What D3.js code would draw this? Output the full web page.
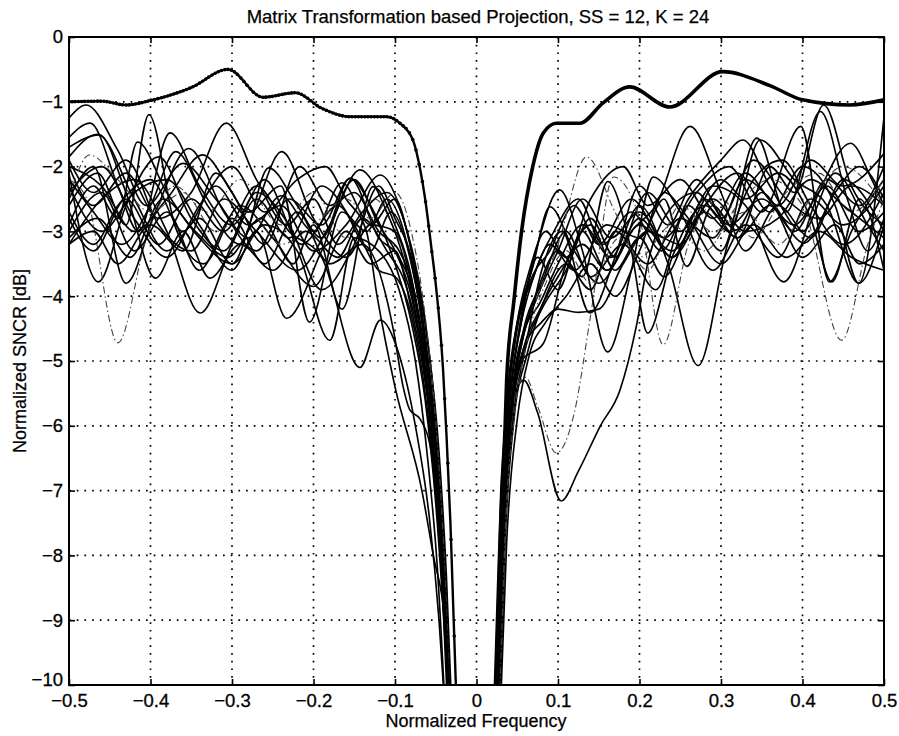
<!DOCTYPE html>
<html><head><meta charset="utf-8">
<script src="https://cdn.jsdelivr.net/npm/d3@7"></script>
<style>
body{margin:0;background:#fff}
text{font-family:"Liberation Sans",Arial,Helvetica,sans-serif;fill:#000}
</style>
</head><body>
<svg id="chart" width="899" height="736"></svg>
<script>
// ---------------- data ----------------
const titleText = "Matrix Transformation based Projection, SS = 12, K = 24";
const xLabelText = "Normalized Frequency";
const yLabelText = "Normalized SNCR [dB]";
const xTickValues = [-0.5,-0.4,-0.3,-0.2,-0.1,0,0.1,0.2,0.3,0.4,0.5];
const yTickValues = [0,-1,-2,-3,-4,-5,-6,-7,-8,-9,-10];

// heavy reference curves
const boldLeft = [[-0.5,-1.0],[-0.46,-0.99],[-0.43,-1.05],[-0.4,-0.98],[-0.35,-0.78],[-0.305,-0.5],[-0.262,-0.93],[-0.222,-0.86],[-0.19,-1.1],[-0.155,-1.23],[-0.11,-1.23],[-0.094,-1.33],[-0.078,-1.59],[-0.069,-2.05],[-0.063,-2.5],[-0.055,-3.29],[-0.051,-3.7],[-0.041,-5.14],[-0.037,-6.1],[-0.032,-7.5],[-0.028,-9.0],[-0.024,-10.5]];
const boldRight = [[0.022,-10.5],[0.027,-8.5],[0.031,-7.0],[0.035,-6.06],[0.037,-5.29],[0.046,-4.06],[0.055,-3.03],[0.069,-2.0],[0.082,-1.48],[0.098,-1.33],[0.127,-1.33],[0.155,-1.02],[0.188,-0.77],[0.237,-1.08],[0.302,-0.535],[0.36,-0.75],[0.4,-0.97],[0.458,-1.05],[0.5,-0.97]];

// thin curves, negative frequencies
const L01 = [[-0.5,-1.25],[-0.479,-1.05],[-0.44,-1.75],[-0.405,-2.6],[-0.36,-1.95],[-0.32,-2.5],[-0.28,-3.1],[-0.24,-2.45],[-0.2,-3.0],[-0.165,-2.25],[-0.13,-2.9],[-0.1,-2.5],[-0.08,-3.3],[-0.06,-4.7],[-0.046,-6.4],[-0.037,-8.3],[-0.03,-10.5]];
const L02 = [[-0.5,-1.55],[-0.474,-1.33],[-0.44,-2.3],[-0.415,-3.0],[-0.376,-1.48],[-0.34,-2.3],[-0.3,-2.9],[-0.26,-2.2],[-0.215,-3.2],[-0.17,-2.6],[-0.13,-3.3],[-0.105,-2.7],[-0.08,-3.5],[-0.062,-4.8],[-0.048,-6.5],[-0.038,-8.4],[-0.031,-10.5]];
const L03 = [[-0.5,-2.6],[-0.465,-2.1],[-0.43,-2.9],[-0.402,-1.2],[-0.369,-2.95],[-0.335,-3.5],[-0.29,-2.6],[-0.25,-3.1],[-0.2,-3.85],[-0.16,-3.0],[-0.13,-3.5],[-0.1,-3.3],[-0.08,-4.2],[-0.062,-5.4],[-0.048,-7.0],[-0.039,-8.8],[-0.032,-10.5]];
const L04 = [[-0.5,-2.0],[-0.47,-2.6],[-0.43,-2.1],[-0.39,-2.8],[-0.35,-2.4],[-0.307,-1.33],[-0.27,-2.2],[-0.233,-2.9],[-0.2,-2.5],[-0.17,-3.2],[-0.14,-2.7],[-0.11,-2.4],[-0.085,-3.0],[-0.065,-4.2],[-0.05,-5.9],[-0.04,-7.9],[-0.032,-10.5]];
const L05 = [[-0.5,-1.85],[-0.465,-1.5],[-0.42,-2.5],[-0.38,-3.3],[-0.34,-2.8],[-0.3,-3.5],[-0.27,-2.6],[-0.239,-1.77],[-0.2,-2.8],[-0.16,-3.4],[-0.13,-2.9],[-0.1,-3.0],[-0.08,-3.8],[-0.063,-5.0],[-0.049,-6.7],[-0.039,-8.6],[-0.032,-10.5]];
const L06 = [[-0.5,-3.2],[-0.46,-2.5],[-0.42,-2.2],[-0.38,-3.0],[-0.339,-4.26],[-0.3,-3.2],[-0.27,-2.5],[-0.23,-3.1],[-0.19,-2.3],[-0.15,-2.9],[-0.12,-3.6],[-0.1,-3.7],[-0.08,-4.3],[-0.064,-5.4],[-0.05,-7.0],[-0.04,-8.9],[-0.033,-10.5]];
const L07 = [[-0.5,-2.3],[-0.46,-3.0],[-0.42,-2.4],[-0.38,-2.2],[-0.34,-2.9],[-0.3,-3.6],[-0.27,-3.0],[-0.233,-4.34],[-0.19,-3.3],[-0.15,-2.2],[-0.12,-2.9],[-0.1,-3.3],[-0.08,-4.0],[-0.063,-5.2],[-0.05,-6.9],[-0.04,-8.7],[-0.033,-10.5]];
const L08 = [[-0.5,-2.1],[-0.464,-3.78],[-0.43,-2.6],[-0.39,-1.85],[-0.35,-2.8],[-0.31,-3.3],[-0.27,-2.4],[-0.23,-2.9],[-0.19,-3.9],[-0.15,-3.2],[-0.12,-2.3],[-0.1,-2.8],[-0.08,-3.4],[-0.062,-4.7],[-0.048,-6.4],[-0.038,-8.3],[-0.031,-10.5]];
const L09 = [[-0.5,-2.5],[-0.47,-2.0],[-0.43,-3.8],[-0.394,-2.7],[-0.353,-1.72],[-0.31,-2.7],[-0.27,-3.3],[-0.23,-2.5],[-0.19,-2.9],[-0.155,-2.18],[-0.12,-3.1],[-0.095,-3.4],[-0.075,-4.1],[-0.06,-5.3],[-0.047,-7.0],[-0.038,-8.9],[-0.031,-10.5]];
const L10 = [[-0.5,-2.2],[-0.478,-2.5],[-0.44,-4.72],[-0.405,-3.1],[-0.37,-2.3],[-0.33,-2.7],[-0.29,-2.2],[-0.24,-2.9],[-0.2,-2.4],[-0.16,-3.1],[-0.125,-2.5],[-0.1,-3.0],[-0.08,-3.7],[-0.063,-5.0],[-0.049,-6.7],[-0.039,-8.5],[-0.032,-10.5]];
const L11 = [[-0.5,-2.8],[-0.47,-3.3],[-0.43,-2.5],[-0.39,-3.2],[-0.35,-2.5],[-0.31,-3.0],[-0.27,-2.3],[-0.23,-3.0],[-0.19,-3.4],[-0.143,-5.1],[-0.118,-4.37],[-0.095,-4.9],[-0.075,-6.0],[-0.058,-7.4],[-0.046,-9.0],[-0.038,-10.5]];
const L12 = [[-0.5,-3.0],[-0.46,-2.4],[-0.42,-3.3],[-0.38,-2.7],[-0.34,-3.6],[-0.3,-2.8],[-0.26,-3.5],[-0.22,-2.7],[-0.18,-3.5],[-0.14,-3.2],[-0.102,-4.52],[-0.09,-5.4],[-0.082,-5.75],[-0.069,-5.9],[-0.057,-6.3],[-0.045,-7.6],[-0.037,-9.0],[-0.031,-10.5]];
const L13 = [[-0.5,-2.4],[-0.46,-2.0],[-0.42,-2.8],[-0.38,-3.4],[-0.34,-2.6],[-0.3,-2.0],[-0.26,-2.7],[-0.22,-2.2],[-0.185,-2.0],[-0.16,-2.5],[-0.135,-3.0],[-0.122,-4.0],[-0.1,-5.4],[-0.067,-7.0],[-0.053,-8.0],[-0.039,-9.0],[-0.033,-10.5]];
const L14 = [[-0.5,-1.9],[-0.47,-2.4],[-0.43,-1.9],[-0.39,-2.9],[-0.35,-3.3],[-0.31,-2.5],[-0.27,-3.0],[-0.22,-3.6],[-0.18,-2.9],[-0.143,-2.05],[-0.11,-2.7],[-0.09,-3.4],[-0.07,-4.6],[-0.055,-6.1],[-0.044,-7.9],[-0.035,-10.5]];
const L15 = [[-0.5,-2.7],[-0.47,-3.2],[-0.44,-2.6],[-0.4,-2.2],[-0.36,-3.0],[-0.32,-2.3],[-0.28,-2.9],[-0.24,-2.6],[-0.2,-3.3],[-0.16,-2.9],[-0.118,-2.13],[-0.095,-2.6],[-0.078,-3.4],[-0.062,-4.8],[-0.049,-6.6],[-0.039,-8.5],[-0.031,-10.5]];
const L16 = [[-0.5,-3.1],[-0.465,-2.8],[-0.425,-3.4],[-0.385,-2.5],[-0.345,-3.0],[-0.305,-3.4],[-0.265,-2.8],[-0.225,-3.5],[-0.2,-2.9],[-0.165,-4.2],[-0.127,-2.31],[-0.1,-2.9],[-0.08,-3.7],[-0.064,-5.0],[-0.05,-6.8],[-0.04,-8.7],[-0.032,-10.5]];
const L17 = [[-0.5,-2.0],[-0.46,-2.3],[-0.42,-3.0],[-0.38,-2.5],[-0.336,-1.82],[-0.3,-2.4],[-0.26,-3.2],[-0.217,-2.0],[-0.18,-2.6],[-0.15,-2.4],[-0.12,-3.0],[-0.095,-3.3],[-0.075,-4.0],[-0.06,-5.2],[-0.047,-6.9],[-0.038,-8.7],[-0.031,-10.5]];
const L18 = [[-0.5,-2.5],[-0.475,-1.82],[-0.44,-2.2],[-0.4,-2.7],[-0.36,-2.4],[-0.32,-3.0],[-0.28,-2.7],[-0.24,-3.2],[-0.2,-2.9],[-0.16,-2.5],[-0.13,-2.8],[-0.1,-2.4],[-0.08,-3.0],[-0.063,-4.3],[-0.049,-6.1],[-0.039,-8.2],[-0.032,-10.5]];
const L19 = [[-0.5,-2.9],[-0.47,-2.3],[-0.44,-2.8],[-0.416,-1.62],[-0.38,-2.4],[-0.34,-3.1],[-0.3,-3.5],[-0.26,-2.9],[-0.22,-3.3],[-0.18,-4.68],[-0.15,-3.1],[-0.12,-3.3],[-0.095,-3.9],[-0.075,-5.0],[-0.06,-6.5],[-0.048,-8.2],[-0.038,-10.5]];
const L20 = [[-0.5,-2.2],[-0.47,-2.7],[-0.435,-3.2],[-0.4,-2.6],[-0.369,-1.77],[-0.33,-2.6],[-0.29,-3.2],[-0.255,-2.02],[-0.22,-2.6],[-0.19,-3.1],[-0.155,-2.18],[-0.13,-2.6],[-0.1,-3.5],[-0.08,-4.4],[-0.063,-5.6],[-0.05,-7.2],[-0.04,-9.0],[-0.033,-10.5]];
const L21 = [[-0.5,-1.7],[-0.463,-1.51],[-0.43,-2.4],[-0.394,-3.72],[-0.36,-3.0],[-0.327,-3.72],[-0.29,-3.2],[-0.25,-3.6],[-0.21,-3.0],[-0.17,-3.4],[-0.14,-2.8],[-0.11,-3.3],[-0.085,-3.9],[-0.066,-5.0],[-0.051,-6.7],[-0.041,-8.6],[-0.033,-10.5]];
const L22 = [[-0.5,-3.2],[-0.47,-3.0],[-0.44,-3.5],[-0.4,-2.9],[-0.36,-3.3],[-0.32,-2.1],[-0.28,-2.7],[-0.24,-2.3],[-0.205,-4.4],[-0.165,-2.7],[-0.135,-3.0],[-0.11,-2.5],[-0.085,-3.2],[-0.066,-4.5],[-0.051,-6.3],[-0.04,-8.3],[-0.032,-10.5]];

// thin curves, positive frequencies
const R01 = [[0.024,-10.5],[0.031,-7.5],[0.04,-5.4],[0.052,-4.3],[0.068,-3.6],[0.09,-2.62],[0.12,-3.3],[0.15,-3.8],[0.19,-3.0],[0.22,-2.6],[0.262,-1.38],[0.3,-2.4],[0.33,-3.3],[0.37,-2.6],[0.41,-3.1],[0.45,-2.2],[0.5,-3.0]];
const R02 = [[0.025,-10.5],[0.032,-7.5],[0.041,-5.6],[0.055,-4.4],[0.075,-3.4],[0.1,-3.9],[0.13,-3.0],[0.16,-3.6],[0.2,-2.8],[0.24,-3.4],[0.28,-2.5],[0.32,-3.1],[0.36,-2.0],[0.39,-2.4],[0.426,-1.05],[0.46,-2.3],[0.5,-2.9]];
const R03 = [[0.026,-10.5],[0.033,-7.6],[0.043,-5.6],[0.058,-4.5],[0.08,-3.8],[0.11,-3.0],[0.14,-3.7],[0.18,-3.2],[0.22,-3.9],[0.26,-2.6],[0.3,-3.3],[0.344,-1.56],[0.38,-2.7],[0.422,-1.15],[0.455,-2.5],[0.48,-3.3],[0.5,-2.8]];
const R04 = [[0.023,-10.5],[0.03,-7.5],[0.039,-5.6],[0.05,-4.5],[0.065,-3.8],[0.09,-3.3],[0.12,-2.6],[0.15,-3.2],[0.19,-2.5],[0.23,-3.1],[0.27,-2.4],[0.31,-2.0],[0.35,-2.7],[0.398,-1.38],[0.433,-3.78],[0.46,-3.0],[0.5,-2.2]];
const R05 = [[0.027,-10.5],[0.034,-7.7],[0.044,-5.8],[0.06,-4.8],[0.08,-4.2],[0.11,-3.6],[0.14,-2.8],[0.17,-3.4],[0.21,-2.4],[0.25,-3.0],[0.29,-2.3],[0.33,-2.6],[0.377,-3.78],[0.42,-2.4],[0.459,-1.64],[0.485,-2.2],[0.5,-2.6]];
const R06 = [[0.025,-10.5],[0.032,-7.6],[0.042,-5.8],[0.056,-4.7],[0.075,-4.0],[0.1,-3.3],[0.13,-2.5],[0.165,-3.1],[0.2,-2.7],[0.24,-3.4],[0.28,-2.6],[0.32,-2.1],[0.36,-2.7],[0.4,-2.0],[0.44,-2.6],[0.469,-3.8],[0.5,-1.23]];
const R07 = [[0.028,-10.5],[0.035,-7.8],[0.046,-5.9],[0.062,-4.9],[0.085,-4.0],[0.11,-3.5],[0.14,-3.9],[0.17,-3.0],[0.21,-3.5],[0.25,-2.8],[0.29,-3.1],[0.33,-2.2],[0.36,-2.5],[0.402,-3.18],[0.44,-2.4],[0.47,-2.0],[0.5,-2.5]];
const R08 = [[0.027,-10.5],[0.034,-7.6],[0.044,-5.7],[0.058,-4.6],[0.078,-3.9],[0.1,-3.2],[0.135,-1.85],[0.17,-2.7],[0.2,-3.4],[0.24,-2.9],[0.28,-3.3],[0.32,-2.6],[0.36,-2.2],[0.4,-2.6],[0.448,-4.68],[0.48,-3.2],[0.5,-2.5]];
const R09 = [[0.022,-10.5],[0.029,-7.4],[0.038,-5.5],[0.05,-4.4],[0.067,-3.8],[0.09,-3.2],[0.12,-3.6],[0.16,-2.9],[0.2,-3.1],[0.23,-2.5],[0.258,-3.54],[0.29,-2.6],[0.318,-2.98],[0.35,-2.4],[0.39,-3.0],[0.43,-2.2],[0.47,-2.6],[0.5,-2.0]];
const R10 = [[0.026,-10.5],[0.033,-7.5],[0.043,-5.7],[0.057,-4.6],[0.078,-4.1],[0.1,-3.5],[0.13,-2.9],[0.165,-3.4],[0.2,-2.6],[0.235,-3.5],[0.272,-5.07],[0.308,-3.2],[0.34,-2.2],[0.375,-1.9],[0.41,-2.6],[0.45,-3.2],[0.5,-2.4]];
const R11 = [[0.026,-10.5],[0.034,-7.5],[0.045,-5.6],[0.058,-5.3],[0.075,-5.8],[0.104,-7.16],[0.125,-6.7],[0.152,-6.0],[0.176,-5.45],[0.196,-4.47],[0.21,-3.5],[0.235,-2.7],[0.27,-2.4],[0.3,-2.8],[0.34,-1.9],[0.38,-2.5],[0.42,-2.8],[0.46,-2.3],[0.5,-2.6]];
const R12 = [[0.028,-10.5],[0.036,-7.5],[0.048,-5.5],[0.06,-5.25],[0.075,-5.7],[0.098,-6.42],[0.12,-5.8],[0.14,-4.3],[0.168,-2.16],[0.2,-2.8],[0.229,-4.75],[0.26,-3.2],[0.3,-2.5],[0.34,-3.1],[0.38,-2.4],[0.42,-2.1],[0.46,-2.7],[0.5,-2.2]];
const R13 = [[0.024,-10.5],[0.031,-7.5],[0.041,-5.6],[0.055,-4.3],[0.075,-3.2],[0.102,-2.36],[0.13,-3.3],[0.161,-4.86],[0.19,-3.6],[0.217,-2.16],[0.25,-2.7],[0.29,-3.6],[0.33,-2.9],[0.37,-3.4],[0.41,-2.5],[0.45,-2.9],[0.5,-2.3]];
const R14 = [[0.025,-10.5],[0.032,-7.6],[0.042,-5.8],[0.056,-4.7],[0.075,-3.9],[0.1,-3.3],[0.13,-3.7],[0.161,-2.23],[0.19,-3.3],[0.21,-4.57],[0.24,-3.4],[0.28,-2.6],[0.32,-3.1],[0.36,-2.6],[0.4,-3.4],[0.44,-2.9],[0.47,-3.5],[0.5,-3.2]];
const R15 = [[0.027,-10.5],[0.034,-7.7],[0.045,-5.9],[0.06,-4.8],[0.08,-3.6],[0.105,-3.0],[0.139,-4.26],[0.17,-3.4],[0.2,-2.3],[0.235,-2.9],[0.27,-2.2],[0.31,-2.9],[0.35,-2.5],[0.39,-2.9],[0.43,-2.3],[0.469,-3.0],[0.5,-2.7]];
const R16 = [[0.026,-10.5],[0.033,-7.6],[0.043,-5.8],[0.058,-4.8],[0.08,-4.4],[0.1,-4.2],[0.125,-4.25],[0.15,-4.2],[0.18,-3.5],[0.21,-3.0],[0.25,-3.2],[0.29,-2.5],[0.33,-3.0],[0.37,-2.8],[0.41,-2.2],[0.45,-2.6],[0.5,-3.1]];
const R17 = [[0.023,-10.5],[0.03,-7.6],[0.04,-6.0],[0.055,-5.0],[0.082,-4.73],[0.11,-3.5],[0.14,-2.9],[0.17,-3.6],[0.2,-3.1],[0.23,-3.7],[0.26,-3.0],[0.3,-2.2],[0.33,-2.5],[0.37,-2.1],[0.41,-2.8],[0.436,-3.78],[0.47,-2.5],[0.5,-3.6]];
const R18 = [[0.028,-10.5],[0.035,-7.7],[0.046,-5.9],[0.062,-4.7],[0.085,-3.8],[0.11,-3.3],[0.14,-3.8],[0.175,-3.1],[0.21,-3.6],[0.25,-2.6],[0.29,-3.0],[0.33,-2.7],[0.37,-3.2],[0.41,-2.5],[0.45,-2.0],[0.5,-2.6]];
const R19 = [[0.024,-10.5],[0.031,-7.5],[0.04,-5.7],[0.052,-4.6],[0.07,-3.7],[0.095,-3.0],[0.125,-2.5],[0.155,-3.2],[0.19,-2.7],[0.227,-3.3],[0.26,-2.5],[0.3,-1.9],[0.327,-1.59],[0.36,-2.3],[0.4,-3.0],[0.44,-2.1],[0.48,-2.9],[0.5,-3.3]];
const R20 = [[0.025,-10.5],[0.032,-7.6],[0.042,-5.9],[0.056,-4.9],[0.078,-4.2],[0.1,-3.7],[0.13,-3.2],[0.16,-3.6],[0.2,-2.9],[0.24,-3.3],[0.28,-2.7],[0.31,-3.0],[0.348,-1.59],[0.39,-2.2],[0.43,-2.6],[0.469,-3.8],[0.5,-2.9]];
const R21 = [[0.029,-10.5],[0.037,-7.8],[0.05,-5.9],[0.065,-4.9],[0.085,-4.4],[0.11,-4.0],[0.14,-3.5],[0.17,-4.0],[0.2,-3.3],[0.23,-2.4],[0.26,-2.8],[0.3,-3.5],[0.34,-2.9],[0.38,-3.4],[0.42,-3.0],[0.46,-3.4],[0.5,-3.6]];
const R22 = [[0.023,-10.5],[0.03,-7.4],[0.039,-5.5],[0.05,-4.4],[0.065,-3.6],[0.085,-3.0],[0.11,-3.4],[0.14,-2.5],[0.18,-2.0],[0.21,-2.6],[0.25,-2.2],[0.29,-2.8],[0.33,-2.1],[0.37,-2.6],[0.41,-1.9],[0.45,-2.3],[0.5,-1.8]];

const leftCurves = [L01,L02,L03,L04,L05,L06,L07,L08,L09,L10,L11,L12,L13,L14,L15,L16,L17,L18,L19,L20,L21,L22];
const rightCurves = [R01,R02,R03,R04,R05,R06,R07,R08,R09,R10,R11,R12,R13,R14,R15,R16,R17,R18,R19,R20,R21,R22];

// ---------------- drawing ----------------
const m = {left: 69, right: 884, top: 37, bottom: 685};
const svg = d3.select("#chart");
const x = d3.scaleLinear().domain([-0.5, 0.5]).range([m.left, m.right]);
const y = d3.scaleLinear().domain([-10, 0]).range([m.bottom, m.top]);

const dashDotLeft = new Set([9, 17]);     // L10, L18
const dashDotRight = new Set([7, 11, 17]); // R08, R12, R18

svg.append("defs").append("clipPath").attr("id", "clip")
  .append("rect").attr("x", m.left).attr("y", m.top)
  .attr("width", m.right - m.left).attr("height", m.bottom - m.top);

// grid
const grid = svg.append("g").attr("stroke", "#000").attr("stroke-width", 1.7)
  .attr("stroke-dasharray", "1.7,6").attr("fill", "none");
xTickValues.slice(1, -1).forEach(v => {
  grid.append("line").attr("x1", x(v)).attr("x2", x(v)).attr("y1", m.top).attr("y2", m.bottom);
});
yTickValues.slice(1, -1).forEach(v => {
  grid.append("line").attr("x1", m.left).attr("x2", m.right).attr("y1", y(v)).attr("y2", y(v));
});

const line = d3.line().x(d => x(d[0])).y(d => y(d[1])).curve(d3.curveMonotoneX);
const plot = svg.append("g").attr("clip-path", "url(#clip)");

function drawThin(curves, dashSet) {
  curves.forEach((c, i) => {
    const dd = dashSet.has(i);
    plot.append("path").datum(c).attr("d", line)
      .attr("fill", "none")
      .attr("stroke", dd ? "#444" : "#000")
      .attr("stroke-width", dd ? 1.1 : 1.65)
      .attr("stroke-dasharray", dd ? "7,3,1.5,3" : null)
      .attr("stroke-linejoin", "round");
  });
}
drawThin(leftCurves, dashDotLeft);
drawThin(rightCurves, dashDotRight);

// bold right curve
plot.append("path").datum(boldRight).attr("d", line)
  .attr("fill", "none").attr("stroke", "#000").attr("stroke-width", 3.6);

// bold left curve with point markers
const bl = plot.append("path").datum(boldLeft).attr("d", line)
  .attr("fill", "none").attr("stroke", "#000").attr("stroke-width", 2.4);
(function markers() {
  const node = bl.node();
  const len = node.getTotalLength();
  const samples = [];
  for (let s = 0; s <= len; s += 0.5) samples.push(node.getPointAtLength(s));
  const step = 1 / 256;
  const pts = [];
  let j = 0;
  for (let fx = -0.5; fx <= boldLeft[boldLeft.length - 1][0]; fx += step) {
    const px = x(fx);
    while (j < samples.length - 1 && samples[j + 1].x <= px) j++;
    pts.push(samples[j]);
  }
  plot.append("g").selectAll("circle").data(pts).join("circle")
    .attr("cx", d => d.x).attr("cy", d => d.y).attr("r", 1.8).attr("fill", "#000");
})();

// axes (ticks inward on all four sides)
const fmtX = d => d === 0 ? "0" : d3.format(".1f")(d).replace("-", "\u2212");
const fmtY = d => d === 0 ? "0" : "\u2212" + Math.abs(d);
const axB = svg.append("g").attr("transform", `translate(0,${m.bottom})`)
  .call(d3.axisBottom(x).tickValues(xTickValues).tickSize(-6).tickPadding(9).tickFormat(fmtX));
const axL = svg.append("g").attr("transform", `translate(${m.left},0)`)
  .call(d3.axisLeft(y).tickValues(yTickValues).tickSize(-6).tickPadding(6).tickFormat(fmtY));
const axT = svg.append("g").attr("transform", `translate(0,${m.top})`)
  .call(d3.axisTop(x).tickValues(xTickValues).tickSize(-6).tickFormat(""));
const axR = svg.append("g").attr("transform", `translate(${m.right},0)`)
  .call(d3.axisRight(y).tickValues(yTickValues).tickSize(-6).tickFormat(""));
[axB, axL, axT, axR].forEach(a => {
  a.select(".domain").remove();
  a.selectAll(".tick line").attr("stroke", "#000").attr("stroke-width", 1.6);
  a.selectAll("text").attr("font-size", 18.5).attr("font-family", "'Liberation Sans', Arial, sans-serif")
    .attr("fill", "#000").attr("stroke", "#000").attr("stroke-width", 0.3);
});
// lift the lowest y label slightly so it does not collide with the first x label
axL.selectAll(".tick").filter(d => d === -10).select("text").attr("dy", "0.05em");

svg.append("rect").attr("x", m.left).attr("y", m.top)
  .attr("width", m.right - m.left).attr("height", m.bottom - m.top)
  .attr("fill", "none").attr("stroke", "#000").attr("stroke-width", 2);

// titles
svg.append("text").attr("x", 478).attr("y", 23).attr("text-anchor", "middle")
  .attr("font-size", 18.5).attr("stroke", "#000").attr("stroke-width", 0.25).text(titleText);
svg.append("text").attr("x", 476).attr("y", 727).attr("text-anchor", "middle")
  .attr("font-size", 18).attr("stroke", "#000").attr("stroke-width", 0.25).text(xLabelText);
svg.append("text").attr("transform", `translate(26,${(m.top + m.bottom) / 2}) rotate(-90)`)
  .attr("text-anchor", "middle").attr("font-size", 18).attr("stroke", "#000").attr("stroke-width", 0.25)
  .text(yLabelText);
</script>
</body></html>
